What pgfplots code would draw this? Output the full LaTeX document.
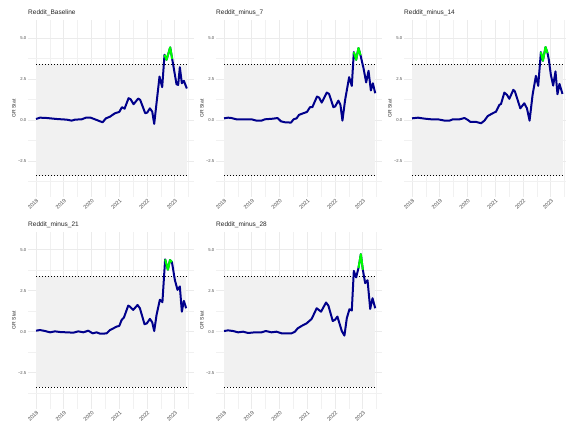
\documentclass[border=0pt]{standalone}
\usepackage{pgfplots}
\pgfplotsset{compat=1.18}
\usepgfplotslibrary{groupplots}
\usepackage{fontspec}
\setmainfont{Liberation Sans}
\definecolor{lineblue}{HTML}{00008B}
\definecolor{hotgreen}{HTML}{00FF00}
\definecolor{bandgray}{HTML}{F1F1F1}
\definecolor{gridgray}{HTML}{EBEBEB}
\begin{document}
\begin{tikzpicture}
\pgfplotsset{
  panel/.style={
    scale only axis, width=166pt, height=177pt,
    xmin=2017.71, xmax=2023.69, ymin=-4.7, ymax=6.1,
    axis line style={draw=none}, major tick length=0pt, minor tick length=0pt,
    xtick={2018,2019,2020,2021,2022,2023},
    minor xtick={2018.5,2019.5,2020.5,2021.5,2022.5,2023.5},
    ytick={-2.5,0,2.5,5}, minor ytick={-3.75,-1.25,1.25,3.75},
    xticklabels={2018,2019,2020,2021,2022,2023},
    yticklabels={−2.5,0.0,2.5,5.0},
    grid=both,
    major grid style={color=gridgray, line width=0.75pt},
    minor grid style={color=gridgray!70, line width=0.45pt},
    yticklabel style={font=\fontsize{4.2}{5}\selectfont, text=black!70, anchor=east, inner sep=1.5pt},
    xticklabel style={font=\fontsize{5.4}{6}\selectfont, text=black!70, rotate=45, anchor=north east, inner sep=1pt},
    ylabel={GR Stat},
    every axis y label/.style={at={(axis description cs:0,0.5)}, xshift=-14pt, rotate=90, anchor=center, font=\fontsize{5}{6}\selectfont, text=black!85},
    every axis title/.style={at={(axis description cs:0,1)}, anchor=base west, yshift=5pt, inner sep=0pt, font=\fontsize{6.5}{8}\selectfont, text=black!85},
  },
  band/.style={draw=none, fill=bandgray},
  thr/.style={black, line width=0.8pt, dash pattern=on 0.8pt off 2.2pt},
  blueline/.style={lineblue, line width=2pt, line join=round, no markers},
  greenline/.style={hotgreen, line width=2pt, line join=round, no markers},
}
\begin{groupplot}[group style={group size=3 by 2, horizontal sep=22pt, vertical sep=34.7pt, group name=G}, panel]
% ---------- Baseline
\nextgroupplot[title={Reddit\_Baseline}]
\addplot[band] coordinates {(2018,-3.4) (2023.43,-3.4) (2023.43,3.4) (2018,3.4)} -- cycle;
\addplot[thr] coordinates {(2018,3.4) (2023.43,3.4)};
\addplot[thr] coordinates {(2018,-3.4) (2023.43,-3.4)};
\addplot[blueline] coordinates {
(2018.000,0.06) (2018.144,0.14) (2018.384,0.12) (2018.743,0.06) (2019.103,0.02)
(2019.283,-0.04) (2019.403,0.02) (2019.643,0.04) (2019.799,0.14) (2019.966,0.14)
(2020.122,0.04) (2020.302,-0.08) (2020.398,-0.14) (2020.518,0.10) (2020.662,0.20)
(2020.842,0.41) (2020.998,0.49) (2021.094,0.78) (2021.189,0.69) (2021.333,1.33)
(2021.405,1.27) (2021.513,0.96) (2021.681,1.31) (2021.753,1.22) (2021.933,0.41)
(2022.005,0.45) (2022.101,0.71) (2022.185,0.51) (2022.257,-0.24) (2022.353,1.22)
(2022.448,2.65) (2022.544,2.00) (2022.628,3.98) (2022.700,3.67) (2022.772,4.08)
(2022.832,4.43) (2022.904,3.73) (2023.060,2.18) (2023.120,2.14) (2023.180,3.22)
(2023.252,2.24) (2023.324,2.39) (2023.432,1.92)};
\addplot[greenline] coordinates {(2022.628,3.98) (2022.700,3.67) (2022.772,4.08) (2022.832,4.43) (2022.904,3.73)};
% ---------- minus 7
\nextgroupplot[title={Reddit\_minus\_7}]
\addplot[band] coordinates {(2018,-3.4) (2023.45,-3.4) (2023.45,3.4) (2018,3.4)} -- cycle;
\addplot[thr] coordinates {(2018,3.4) (2023.45,3.4)};
\addplot[thr] coordinates {(2018,-3.4) (2023.45,-3.4)};
\addplot[blueline] coordinates {
(2018.000,0.10) (2018.145,0.14) (2018.265,0.12) (2018.446,0.04) (2018.747,0.04)
(2018.988,0.04) (2019.169,-0.04) (2019.349,-0.04) (2019.470,0.04) (2019.771,0.08)
(2019.928,0.12) (2020.048,-0.08) (2020.193,-0.14) (2020.410,-0.16) (2020.506,0.04)
(2020.614,0.10) (2020.699,0.31) (2020.855,0.41) (2020.988,0.49) (2021.096,0.78)
(2021.181,0.78) (2021.349,1.43) (2021.422,1.37) (2021.518,1.06) (2021.699,1.67)
(2021.783,1.59) (2021.940,0.78) (2022.000,0.82) (2022.120,1.18) (2022.193,0.92)
(2022.265,-0.04) (2022.361,1.22) (2022.506,2.61) (2022.602,2.08) (2022.675,4.14)
(2022.759,3.67) (2022.843,4.39) (2022.916,3.95) (2023.024,3.16) (2023.120,2.29)
(2023.205,3.00) (2023.289,1.80) (2023.361,2.24) (2023.446,1.63)};
\addplot[greenline] coordinates {(2022.675,4.14) (2022.759,3.67) (2022.843,4.39) (2022.916,3.95)};
% ---------- minus 14
\nextgroupplot[title={Reddit\_minus\_14}]
\addplot[band] coordinates {(2018,-3.4) (2023.42,-3.4) (2023.42,3.4) (2018,3.4)} -- cycle;
\addplot[thr] coordinates {(2018,3.4) (2023.42,3.4)};
\addplot[thr] coordinates {(2018,-3.4) (2023.42,-3.4)};
\addplot[blueline] coordinates {
(2018.000,0.10) (2018.215,0.14) (2018.455,0.08) (2018.694,0.04) (2018.933,0.04)
(2019.172,-0.04) (2019.352,-0.04) (2019.471,0.04) (2019.711,0.04) (2019.890,0.12)
(2020.010,0.00) (2020.105,-0.12) (2020.309,-0.12) (2020.488,-0.20) (2020.608,-0.04)
(2020.727,0.24) (2020.907,0.41) (2021.026,0.51) (2021.146,0.92) (2021.206,0.98)
(2021.325,1.67) (2021.421,1.53) (2021.505,1.29) (2021.648,1.84) (2021.708,1.73)
(2021.900,0.71) (2022.043,1.02) (2022.139,0.71) (2022.234,-0.04) (2022.342,1.53)
(2022.462,2.69) (2022.545,2.08) (2022.641,4.14) (2022.713,3.61) (2022.809,4.45)
(2022.880,4.08) (2022.928,3.67) (2023.000,2.76) (2023.084,2.10) (2023.167,2.96)
(2023.239,1.57) (2023.311,2.20) (2023.419,1.59)};
\addplot[greenline] coordinates {(2022.641,4.14) (2022.713,3.61) (2022.809,4.45) (2022.880,4.08)};
% ---------- minus 21
\nextgroupplot[title={Reddit\_minus\_21}]
\addplot[band] coordinates {(2018,-3.4) (2023.41,-3.4) (2023.41,3.4) (2018,3.4)} -- cycle;
\addplot[thr] coordinates {(2018,3.4) (2023.41,3.4)};
\addplot[thr] coordinates {(2018,-3.4) (2023.41,-3.4)};
\addplot[blueline] coordinates {
(2018.000,0.06) (2018.144,0.10) (2018.324,0.04) (2018.504,-0.04) (2018.683,0.02)
(2018.863,-0.02) (2019.103,-0.04) (2019.343,-0.06) (2019.523,0.02) (2019.703,-0.04)
(2019.882,0.06) (2020.038,-0.10) (2020.182,-0.04) (2020.302,-0.12) (2020.422,-0.12)
(2020.542,-0.10) (2020.662,0.10) (2020.782,0.20) (2020.902,0.31) (2020.998,0.35)
(2021.082,0.71) (2021.165,0.86) (2021.321,1.59) (2021.381,1.53) (2021.501,1.33)
(2021.657,1.63) (2021.741,1.43) (2021.909,0.45) (2021.993,0.51) (2022.101,0.78)
(2022.185,0.57) (2022.257,0.04) (2022.341,1.02) (2022.460,1.95) (2022.552,1.80)
(2022.650,4.41) (2022.750,3.78) (2022.825,4.37) (2022.895,4.25) (2023.000,3.16)
(2023.096,2.55) (2023.180,2.76) (2023.252,1.22) (2023.324,1.88) (2023.408,1.43)};
\addplot[greenline] coordinates {(2022.650,4.41) (2022.750,3.78) (2022.825,4.37) (2022.895,4.25)};
% ---------- minus 28
\nextgroupplot[title={Reddit\_minus\_28}]
\addplot[band] coordinates {(2018,-3.4) (2023.45,-3.4) (2023.45,3.4) (2018,3.4)} -- cycle;
\addplot[thr] coordinates {(2018,3.4) (2023.45,3.4)};
\addplot[thr] coordinates {(2018,-3.4) (2023.45,-3.4)};
\addplot[blueline] coordinates {
(2018.000,0.04) (2018.145,0.08) (2018.325,0.04) (2018.506,-0.04) (2018.687,0.00)
(2018.867,-0.08) (2019.108,-0.04) (2019.349,-0.04) (2019.506,0.04) (2019.711,-0.04)
(2019.892,0.00) (2020.072,-0.10) (2020.253,-0.10) (2020.434,-0.10) (2020.554,0.00)
(2020.651,0.20) (2020.795,0.35) (2020.976,0.51) (2021.157,0.78) (2021.337,1.43)
(2021.494,1.22) (2021.675,1.78) (2021.759,1.59) (2021.916,0.65) (2022.000,0.73)
(2022.084,0.92) (2022.241,0.04) (2022.337,-0.24) (2022.422,0.82) (2022.518,1.37)
(2022.602,1.29) (2022.675,3.71) (2022.759,3.31) (2022.843,3.88) (2022.928,4.73)
(2023.000,3.78) (2023.084,2.96) (2023.169,3.14) (2023.265,1.39) (2023.349,2.04)
(2023.446,1.43)};
\addplot[greenline] coordinates {(2022.843,3.88) (2022.928,4.73) (2023.000,3.78)};
\end{groupplot}
\pgfresetboundingbox
\path (G c1r1.north west) ++(-28pt,20pt) rectangle ++(566pt,-430pt);
\end{tikzpicture}
\end{document}
